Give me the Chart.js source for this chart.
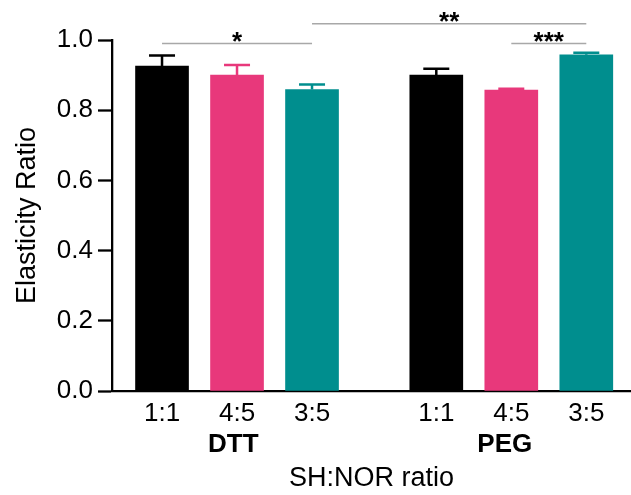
<!DOCTYPE html>
<html>
<head>
<meta charset="utf-8">
<script src="https://cdn.jsdelivr.net/npm/chart.js@4"></script>
<style>
  html, body { margin: 0; padding: 0; background: #fff; }
  #wrap { width: 631px; height: 495px; position: relative; }
</style>
</head>
<body>
<div id="wrap"><canvas id="grafico"></canvas></div>
<script>
// dados
const rotulos = ["1:1", "4:5", "3:5", "1:1", "4:5", "3:5"];
const posicoes = [0, 1, 2, 3.657, 4.657, 5.657];
const medias = [0.926, 0.900, 0.859, 0.900, 0.857, 0.958];
const erros = [0.030, 0.029, 0.014, 0.018, 0.004, 0.006];
const grupos = ["DTT", "PEG"];
const posGrupos = [0.95, 4.57];
const ticksY = [0, 0.2, 0.4, 0.6, 0.8, 1.0];

// comparações: [barra a, barra b, altura, texto]
const compA = [0, 2, 4];
const compB = [2, 5, 5];
const compY = [0.99, 1.046, 0.99];
const compTexto = ["*", "**", "***"];

const cores = ["#000000", "#E8387B", "#008E8E", "#000000", "#E8387B", "#008E8E"];
const fonte = "'Liberation Sans', Arial, sans-serif";

const ctx = document.getElementById("grafico");

// barras de erro (só para cima)
const pluginErro = {
  id: "barrasErro",
  afterDatasetsDraw(chart) {
    const y = chart.scales.y;
    const meta = chart.getDatasetMeta(0);
    const c = chart.ctx;
    c.save();
    meta.data.forEach((bar, i) => {
      const topo = y.getPixelForValue(medias[i] + erros[i]);
      const base = y.getPixelForValue(medias[i]);
      c.strokeStyle = cores[i];
      c.lineWidth = 2.5;
      c.beginPath();
      c.moveTo(bar.x, base);
      c.lineTo(bar.x, topo);
      c.moveTo(bar.x - 13, topo);
      c.lineTo(bar.x + 13, topo);
      c.stroke();
    });
    c.restore();
  },
};

// linhas de significância
const pluginSig = {
  id: "significancia",
  afterDraw(chart) {
    const x = chart.scales.x;
    const y = chart.scales.y;
    const c = chart.ctx;
    c.save();
    compA.forEach((a, k) => {
      const x1 = x.getPixelForValue(posicoes[a]);
      const x2 = x.getPixelForValue(posicoes[compB[k]]);
      const yy = y.getPixelForValue(compY[k]);
      c.strokeStyle = "#a8a8a8";
      c.lineWidth = 1.5;
      c.beginPath();
      c.moveTo(x1, yy);
      c.lineTo(x2, yy);
      c.stroke();
      c.fillStyle = "#000";
      c.font = "bold 26px " + fonte;
      c.textAlign = "center";
      c.textBaseline = "alphabetic";
      c.fillText(compTexto[k], (x1 + x2) / 2, yy + 6);
    });
    c.restore();
  },
};

new Chart(ctx, {
  type: "bar",
  data: {
    datasets: [
      {
        data: posicoes.map((p, i) => ({ x: p, y: medias[i] })),
        backgroundColor: cores,
        borderWidth: 0,
        barThickness: 53,
        xAxisID: "x",
      },
    ],
  },
  options: {
    responsive: true,
    maintainAspectRatio: false,
    animation: false,
    layout: { padding: { top: 40, right: 0, left: 0, bottom: 0 } },
    plugins: {
      legend: { display: false },
      tooltip: { enabled: false },
    },
    scales: {
      x: {
        type: "linear",
        position: "bottom",
        offset: false,
        min: -0.667,
        max: 6.253,
        afterFit: (axis) => { axis.height = 37; },
        afterBuildTicks: (axis) => {
          axis.ticks = posicoes.map((v) => ({ value: v }));
        },
        ticks: {
          autoSkip: false,
          maxRotation: 0,
          padding: 7,
          color: "#000",
          font: { family: fonte, size: 26 },
          callback: (v, i) => rotulos[i],
        },
        grid: { display: true, drawOnChartArea: false, drawTicks: false },
        border: { color: "#000", width: 2.3 },
      },
      x2: {
        type: "linear",
        position: "bottom",
        offset: false,
        min: -0.667,
        max: 6.253,
        afterFit: (axis) => { axis.height = 67; },
        afterBuildTicks: (axis) => {
          axis.ticks = posGrupos.map((v) => ({ value: v }));
        },
        ticks: {
          autoSkip: false,
          maxRotation: 0,
          padding: 1,
          color: "#000",
          font: { family: fonte, size: 26, weight: "bold" },
          callback: (v, i) => grupos[i],
        },
        grid: { display: false, drawTicks: false },
        border: { display: false },
        title: {
          display: true,
          text: "SH:NOR ratio",
          color: "#000",
          font: { family: fonte, size: 27 },
          padding: { top: 0, bottom: 0 },
        },
      },
      y: {
        min: 0,
        max: 1,
        afterFit: (axis) => { axis.width = 112; },
        afterBuildTicks: (axis) => {
          axis.ticks = ticksY.map((v) => ({ value: v }));
        },
        ticks: {
          padding: 5,
          color: "#000",
          font: { family: fonte, size: 26 },
          callback: (v) => v.toFixed(1),
        },
        grid: {
          display: true,
          drawOnChartArea: false,
          drawTicks: true,
          tickLength: 14,
          tickColor: "#000",
          tickWidth: 2.3,
        },
        border: { color: "#000", width: 2.3 },
        title: {
          display: true,
          text: "Elasticity Ratio",
          color: "#000",
          font: { family: fonte, size: 27 },
          padding: { top: 11, bottom: 0 },
        },
      },
    },
  },
  plugins: [pluginErro, pluginSig],
});
</script>
</body>
</html>
